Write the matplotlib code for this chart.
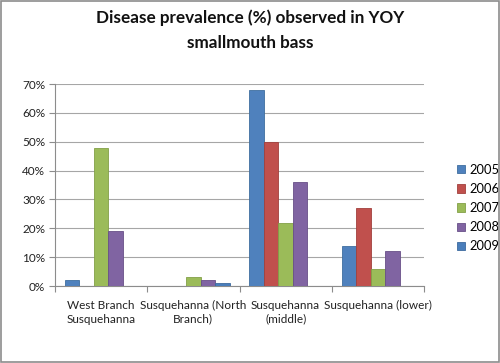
import matplotlib.pyplot as plt
from matplotlib.patches import Rectangle
import numpy as np

plt.rcParams["font.family"] = ["Lato", "DejaVu Sans"]

sites = ["West Branch\nSusquehanna", "Susquehanna (North\nBranch)",
         "Susquehanna\n(middle)", "Susquehanna (lower)"]
years = ["2005", "2006", "2007", "2008", "2009"]
# prevalence in percent, one list per year, in site order
prev_2005 = [2, 0, 68, 14]
prev_2006 = [0, 0, 50, 27]
prev_2007 = [48, 3, 22, 6]
prev_2008 = [19, 2, 36, 12]
prev_2009 = [0, 1.2, 0, 0]
series = [prev_2005, prev_2006, prev_2007, prev_2008, prev_2009]
colors = ["#4F81BD", "#C0504D", "#9BBB59", "#8064A2", "#4A7EBB"]
edges = ["#3F6E9F", "#A23F3C", "#82A047", "#684F88", "#3C6A9F"]

fig = plt.figure(figsize=(5.0, 3.63), dpi=100)
ax = fig.add_axes([0.11, 0.212, 0.738, 0.5565])

# outer chart border
fig.patches.append(Rectangle((0.002, 0.003), 0.996, 0.994, transform=fig.transFigure,
                             fill=False, ec="#8c8c8c", lw=1.2))

n = len(years)
bw = 0.157
x = np.arange(len(sites))
for i, (vals, c, e) in enumerate(zip(series, colors, edges)):
    pos = x + (i - (n - 1) / 2) * bw
    v = np.array(vals, dtype=float) / 100
    ax.bar(pos, v, width=bw, color=c, edgecolor=e, linewidth=0.6,
           label=years[i], zorder=3)

ax.set_xlim(-0.5, len(sites) - 0.5)
ax.set_ylim(0, 0.70)
ax.set_yticks(np.arange(0, 0.71, 0.1))
ax.set_yticklabels([f"{int(round(t * 100))}%" for t in np.arange(0, 0.71, 0.1)])
ax.yaxis.grid(True, color="#a6a6a6", lw=0.8, zorder=0)
ax.set_axisbelow(True)

ax.set_xticks(x)
ax.set_xticklabels(sites, fontsize=8.5, color="#222222", linespacing=1.3)
ax.set_xticks(np.arange(-0.5, len(sites)), minor=True)
ax.tick_params(axis="x", which="major", length=0, pad=10)
ax.tick_params(axis="x", which="minor", length=4, color="#8c8c8c", width=0.8)
ax.tick_params(axis="y", length=4, color="#8c8c8c", width=0.8,
               labelsize=8.5, labelcolor="#222222", pad=3)

for s in ["top", "right"]:
    ax.spines[s].set_visible(False)
for s in ["left", "bottom"]:
    ax.spines[s].set_color("#8c8c8c")
    ax.spines[s].set_linewidth(0.8)

fig.text(0.5, 0.917, "Disease prevalence (%) observed in YOY\nsmallmouth bass",
         ha="center", va="center", fontsize=12.3, fontweight="bold",
         linespacing=1.75, color="#111111")

ax.legend(loc="center left", bbox_to_anchor=(1.089, 0.386), frameon=False,
          fontsize=9.3, handlelength=0.6, handleheight=0.6,
          handletextpad=0.4, labelspacing=0.55, borderaxespad=0, borderpad=0)

fig.savefig("out.png", dpi=100)
